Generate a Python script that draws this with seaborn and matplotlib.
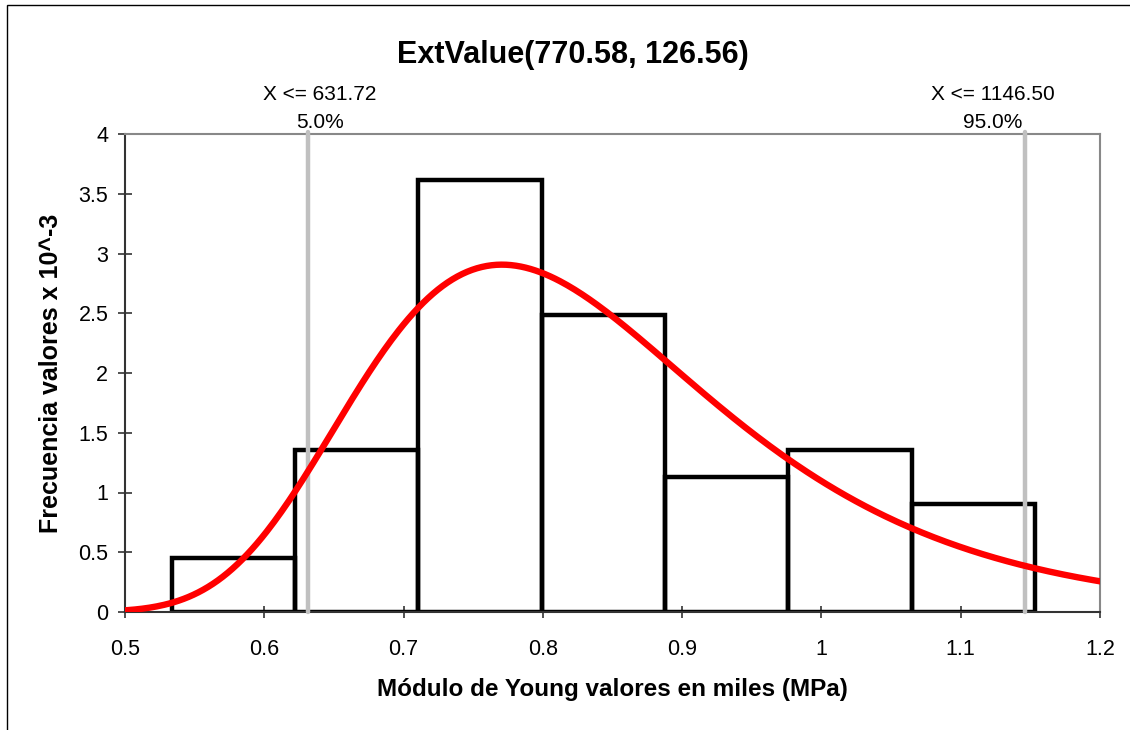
import numpy as np
import pandas as pd
import matplotlib
matplotlib.use("Agg")
import matplotlib.pyplot as plt
from matplotlib.patches import Rectangle
import seaborn as sns

# Young's modulus samples grouped into bins (thousands of MPa)
bin_edges = [0.5337, 0.6222, 0.7107, 0.7992, 0.8877, 0.9762, 1.0647, 1.1533]
bin_counts = [2, 6, 16, 11, 5, 6, 4]

# Fitted extreme-value (Gumbel) parameters, MPa
gumbel_loc = 770.58
gumbel_scale = 126.56

# Percentile markers
pct_values = [631.72, 1146.50]
pct_labels = ["5.0%", "95.0%"]

x_ticks = [0.5, 0.6, 0.7, 0.8, 0.9, 1.0, 1.1, 1.2]
x_tick_labels = ["0.5", "0.6", "0.7", "0.8", "0.9", "1", "1.1", "1.2"]
y_ticks = [0, 0.5, 1, 1.5, 2, 2.5, 3, 3.5, 4]
y_tick_labels = ["0", "0.5", "1", "1.5", "2", "2.5", "3", "3.5", "4"]

sns.set_theme(style="white")
plt.rcParams["font.family"] = ["Liberation Sans", "DejaVu Sans"]
plt.rcParams["text.color"] = "black"
plt.rcParams["axes.labelcolor"] = "black"

fig = plt.figure(figsize=(11.3, 7.3), dpi=100)
ax = fig.add_axes([125 / 1130, 1 - 612 / 730, 975 / 1130, 478 / 730])

# Histogram as a density in units of 1/(thousand MPa) == 10^-3 / MPa
centers = [(a + b) / 2 for a, b in zip(bin_edges[:-1], bin_edges[1:])]
hist_df = pd.DataFrame({"x": centers, "w": bin_counts})
sns.histplot(data=hist_df, x="x", weights="w", bins=bin_edges, stat="density",
             fill=False, element="bars", color="black", linewidth=3.2, ax=ax,
             zorder=2)

# Percentile lines
for v in pct_values:
    ax.axvline(v / 1000, ymin=0, ymax=1.005, color="#c0c0c0", lw=3.2,
               zorder=3, clip_on=False)

# Gumbel density curve from the fitted parameters
mu = gumbel_loc / 1000
beta = gumbel_scale / 1000
xs = np.linspace(0.5, 1.2, 400)
z = (xs - mu) / beta
pdf = np.exp(-(z + np.exp(-z))) / beta
sns.lineplot(x=xs, y=pdf, color="#ff0000", lw=4.6, ax=ax, zorder=4)

ax.set_xlim(0.5, 1.2)
ax.set_ylim(0, 4)
ax.set_xticks(x_ticks)
ax.set_xticklabels(x_tick_labels)
ax.set_yticks(y_ticks)
ax.set_yticklabels(y_tick_labels)
ax.tick_params(axis="x", direction="inout", length=9, width=1.2,
               colors="#333333", labelcolor="black", labelsize=15.5, pad=15,
               bottom=True)
ax.tick_params(axis="y", direction="inout", length=10, width=1.2,
               colors="#333333", labelcolor="black", labelsize=15.5, pad=7,
               left=True)

for side in ["left", "bottom"]:
    ax.spines[side].set_color("#333333")
    ax.spines[side].set_linewidth(1.5)
for side in ["top", "right"]:
    ax.spines[side].set_color("#888888")
    ax.spines[side].set_linewidth(1.5)

ax.set_xlabel("Módulo de Young valores en miles (MPa)", fontsize=17.5,
              fontweight="bold", labelpad=13, color="black")
ax.set_ylabel("Frecuencia valores x 10^-3", fontsize=18,
              fontweight="bold", labelpad=11, color="black")

fig.text(0.507, 1 - 55 / 730, f"ExtValue({gumbel_loc:.2f}, {gumbel_scale:.2f})",
         ha="center", va="center", fontsize=22, fontweight="bold", color="black")

# Percentile annotations above the plot area
label_x = [0.640, 1.1232]
for v, lab, lx in zip(pct_values, pct_labels, label_x):
    ax.text(lx, 1 + 39 / 478, f"X <= {v:.2f}", transform=ax.get_xaxis_transform(),
            ha="center", va="center", fontsize=15, color="black")
    ax.text(lx, 1 + 11 / 478, lab, transform=ax.get_xaxis_transform(),
            ha="center", va="center", fontsize=15, color="black")

# Outer frame of the chart area
fig.patches.append(Rectangle((7 / 1130, -0.1), 1.2, 1.1 - 5 / 730,
                             transform=fig.transFigure, fill=False,
                             edgecolor="black", lw=1.0))

fig.savefig("out.png", dpi=100)
